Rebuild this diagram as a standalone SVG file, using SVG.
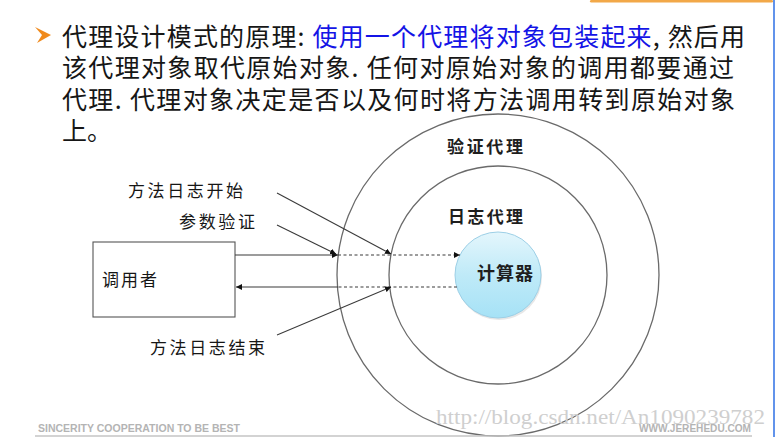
<svg xmlns="http://www.w3.org/2000/svg" width="776" height="437" viewBox="0 0 776 437">
<style>
.hdr{font-family:"Noto Sans CJK SC","Noto Sans",sans-serif;font-size:25px;fill:#161616}
.blue{fill:#1414e6}
.lbl{font-family:"Noto Sans CJK SC",sans-serif;font-size:17px;fill:#161616}
.bold{font-family:"Noto Sans CJK SC",sans-serif;font-size:17px;font-weight:bold;fill:#1e1e1e}
.ring{fill:none;stroke:#6a6a6a;stroke-width:1.3}
.ln{stroke:#3a3a3a;stroke-width:1.1;fill:none}
.dash{stroke:#3a3a3a;stroke-width:1.1;stroke-dasharray:3 2.5;fill:none}
.foot{font-family:"Liberation Sans",Arial,sans-serif;font-weight:bold;font-size:11.5px;fill:#b4b4b4}
</style>
<defs>
<marker id="ah" viewBox="0 0 10 10" refX="10" refY="5" markerWidth="6" markerHeight="6" orient="auto" markerUnits="userSpaceOnUse">
<path d="M0,0 L10,5 L0,10 Z" fill="#111"/>
</marker>
<linearGradient id="bg" x1="0" y1="0" x2="0" y2="1">
<stop offset="0" stop-color="#e4f6fc"/>
<stop offset="0.5" stop-color="#bfeaf8"/>
<stop offset="1" stop-color="#a6e2f6"/>
</linearGradient>
</defs>
<rect width="776" height="437" fill="#ffffff"/>
<rect x="590" y="0" width="183" height="2.5" rx="1.2" fill="#f2a848"/>
<line x1="774" y1="0" x2="774" y2="437" stroke="#3a78e6" stroke-width="1.6"/>

<g id="header">
<path d="M35,27 L51,35 L37,43 L42,35 Z" fill="#f08a1c"/>
<text class="hdr" x="62" y="45.5" textLength="683" lengthAdjust="spacing">代理设计模式的原理: <tspan class="blue">使用一个代理将对象包装起来</tspan>, 然后用</text>
<text class="hdr" x="62" y="77" textLength="672" lengthAdjust="spacing">该代理对象取代原始对象. 任何对原始对象的调用都要通过</text>
<text class="hdr" x="62" y="108.5" textLength="673" lengthAdjust="spacing">代理. 代理对象决定是否以及何时将方法调用转到原始对象</text>
<text class="hdr" x="62" y="140">上。</text>
</g>

<g id="outer-proxy">
<circle class="ring" cx="498" cy="275" r="161"/>
<text class="bold" x="447" y="153" textLength="76">验证代理</text>
</g>
<g id="inner-proxy">
<circle class="ring" cx="498" cy="275" r="109"/>
<text class="bold" x="448" y="223" textLength="75">日志代理</text>
</g>
<g id="calculator">
<circle cx="499" cy="277" r="43" fill="#d0d0d0" opacity="0.5"/>
<circle cx="498" cy="275" r="43" fill="url(#bg)" stroke="#9ccfe6" stroke-width="1"/>
<text class="bold" x="477" y="280" style="font-size:18px" textLength="56">计算器</text>
</g>
<g id="caller">
<rect x="93" y="242" width="142" height="75" fill="#ffffff" stroke="#555" stroke-width="1.1"/>
<text class="lbl" x="102" y="286" textLength="55">调用者</text>
</g>
<g id="labels">
<text class="lbl" x="128" y="197" textLength="115">方法日志开始</text>
<text class="lbl" x="179" y="228" textLength="76">参数验证</text>
<text class="lbl" x="150" y="354" textLength="115">方法日志结束</text>
</g>

<g id="connectors">
<line class="ln" x1="235" y1="255" x2="338" y2="255" marker-end="url(#ah)"/>
<line class="dash" x1="338" y1="255" x2="460" y2="255" marker-end="url(#ah)"/>
<line class="dash" x1="457" y1="287" x2="338" y2="287"/>
<line class="ln" x1="338" y1="287" x2="236" y2="287" marker-end="url(#ah)"/>
<line class="ln" x1="277" y1="193" x2="391" y2="254" marker-end="url(#ah)"/>
<line class="ln" x1="277" y1="225" x2="336" y2="254" marker-end="url(#ah)"/>
<line class="ln" x1="277" y1="335" x2="391" y2="287" marker-end="url(#ah)"/>
</g>

<g id="footer">
<text x="436" y="424" font-family="Liberation Serif,serif" font-size="21" fill="#cfcfcf" textLength="329" lengthAdjust="spacingAndGlyphs">http://blog.csdn.net/An1090239782</text>
<text class="foot" x="38" y="432" textLength="202" lengthAdjust="spacingAndGlyphs">SINCERITY  COOPERATION  TO BE BEST</text>
<text class="foot" x="639" y="432" textLength="112" lengthAdjust="spacingAndGlyphs">WWW.JEREHEDU.COM</text>
<line x1="35" y1="436" x2="752" y2="436" stroke="#c4c4c4" stroke-width="1.5"/>
</g>
</svg>
